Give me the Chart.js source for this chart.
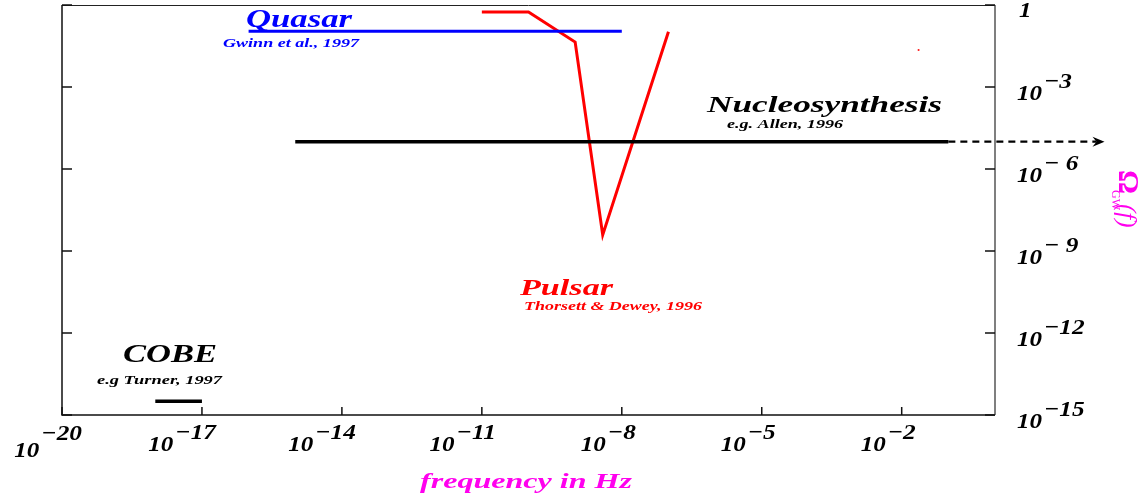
<!DOCTYPE html>
<html>
<head>
<meta charset="utf-8">
<script src="https://cdn.jsdelivr.net/npm/chart.js@4.4.1/dist/chart.umd.min.js"></script>
<style>
  html, body { margin: 0; padding: 0; background: #fff; }
  canvas { display: block; }
</style>
</head>
<body>
<canvas id="chart" width="1146" height="497"></canvas>
<script>
// ---- data (frequency in Hz, Omega_GW) ----
const quasarX = [1e-16, 1e-8];
const quasarY = [0.11, 0.11];

const nucleoX = [1e-15, 1e-1];
const nucleoY = [1e-5, 1e-5];
const nucleoExtX = [1e-1, 150];
const nucleoExtY = [1e-5, 1e-5];

const pulsarX = [1e-11, 1e-10, 1e-9, 3.9e-9, 1e-7];
const pulsarY = [0.56, 0.56, 0.044, 3.9e-9, 0.105];

const strayX = [0.023];
const strayY = [0.0226];

const cobeX = [1e-18, 1e-17];
const cobeY = [3.2e-15, 3.2e-15];

// ticks (powers of ten)
const xTickExps = [-20, -17, -14, -11, -8, -5, -2];
const xTickLabels = ['\u221220', '\u221217', '\u221214', '\u221211', '\u22128', '\u22125', '\u22122'];
const yTickExps = [0, -3, -6, -9, -12, -15];
const yTickLabels = ['1', '\u22123', '\u2212 6', '\u2212 9', '\u221212', '\u221215'];

const BLUE = '#0000ff';
const RED = '#ff0000';
const BLACK = '#000000';
const MAGENTA = '#ff00ee';
const SERIF = '"Liberation Serif", "DejaVu Serif", serif';

function pts(xs, ys) {
  return xs.map((x, i) => ({ x: x, y: ys[i] }));
}

// text squeezed/stretched to a given width so it matches the original layout
function fitText(ctx, str, x, y, w, size, color) {
  ctx.save();
  ctx.font = 'italic bold ' + size + 'px ' + SERIF;
  ctx.fillStyle = color;
  ctx.textBaseline = 'alphabetic';
  const m = ctx.measureText(str).width;
  ctx.translate(x, y);
  ctx.scale(w / m, 1);
  ctx.fillText(str, 0, 0);
  ctx.restore();
}

// "10" with a big superscript exponent, drawn from a left edge
const BASE_PX = 20, SUP_PX = 22;
const BASE_SX = 1.25, SUP_SX = 1.15;
function powWidths(ctx, sup) {
  ctx.font = 'italic bold ' + BASE_PX + 'px ' + SERIF;
  const bw = ctx.measureText('10').width * BASE_SX;
  ctx.font = 'italic bold ' + SUP_PX + 'px ' + SERIF;
  const sw = ctx.measureText(sup).width * SUP_SX;
  return [bw, sw];
}
function drawPow(ctx, sup, left, baseY, supY) {
  const [bw] = powWidths(ctx, sup);
  ctx.save();
  ctx.font = 'italic bold ' + BASE_PX + 'px ' + SERIF;
  ctx.translate(left, baseY);
  ctx.scale(BASE_SX, 1);
  ctx.fillText('10', 0, 0);
  ctx.restore();
  ctx.save();
  ctx.font = 'italic bold ' + SUP_PX + 'px ' + SERIF;
  ctx.translate(left + bw + 2, supY);
  ctx.scale(SUP_SX, 1);
  ctx.fillText(sup, 0, 0);
  ctx.restore();
}

const notes = [
  ['Quasar', 246, 27, 106, 26, BLUE],
  ['Gwinn et al., 1997', 223, 47, 136, 13, BLUE],
  ['Nucleosynthesis', 707, 112, 235, 24, BLACK],
  ['e.g. Allen, 1996', 727, 128, 116, 12, BLACK],
  ['Pulsar', 520, 295, 93, 24, RED],
  ['Thorsett & Dewey, 1996', 524, 310, 178, 12, RED],
  ['COBE', 123, 362, 94, 25, BLACK],
  ['e.g Turner, 1997', 97, 384, 125, 12, BLACK],
  ['frequency in Hz', 420, 488, 212, 22, MAGENTA]
];

const framePlugin = {
  id: 'frame',
  beforeDatasetsDraw(chart) {
    const ctx = chart.ctx;
    const a = chart.chartArea;
    const xs = chart.scales.x;
    const ys = chart.scales.y;
    ctx.save();
    ctx.lineCap = 'butt';

    // top border
    ctx.strokeStyle = '#222';
    ctx.lineWidth = 1;
    ctx.beginPath();
    ctx.moveTo(a.left, a.top + 0.5);
    ctx.lineTo(a.right, a.top + 0.5);
    ctx.stroke();

    // left + bottom axes
    ctx.strokeStyle = '#111';
    ctx.lineWidth = 1.5;
    ctx.beginPath();
    ctx.moveTo(a.left, a.top);
    ctx.lineTo(a.left, a.bottom);
    ctx.lineTo(a.right, a.bottom);
    ctx.stroke();

    // right axis
    ctx.strokeStyle = '#555';
    ctx.beginPath();
    ctx.moveTo(a.right, a.top);
    ctx.lineTo(a.right, a.bottom);
    ctx.stroke();

    // ticks
    ctx.strokeStyle = '#111';
    ctx.beginPath();
    yTickExps.forEach(e => {
      const py = ys.getPixelForValue(Math.pow(10, e));
      ctx.moveTo(a.left, py);
      ctx.lineTo(a.left + 10, py);
      ctx.moveTo(a.right - 10, py);
      ctx.lineTo(a.right, py);
    });
    xTickExps.forEach(e => {
      const px = xs.getPixelForValue(Math.pow(10, e));
      ctx.moveTo(px, a.bottom);
      ctx.lineTo(px, a.bottom - 8);
    });
    ctx.stroke();
    ctx.restore();
  },
  afterDraw(chart) {
    const ctx = chart.ctx;
    const a = chart.chartArea;
    const xs = chart.scales.x;
    const ys = chart.scales.y;
    ctx.save();
    ctx.fillStyle = BLACK;
    ctx.textBaseline = 'alphabetic';

    // arrow head at the end of the dashed extension
    const ax = xs.getPixelForValue(nucleoExtX[nucleoExtX.length - 1]);
    const ay = ys.getPixelForValue(nucleoExtY[nucleoExtY.length - 1]);
    ctx.beginPath();
    ctx.moveTo(ax - 4, ay - 5);
    ctx.lineTo(ax + 8, ay);
    ctx.lineTo(ax - 4, ay + 5);
    ctx.lineTo(ax, ay);
    ctx.closePath();
    ctx.fill();

    // x tick labels: 10^n, right edge just past the tick
    xTickExps.forEach((e, i) => {
      const px = xs.getPixelForValue(Math.pow(10, e));
      const first = i === 0;
      const [bw, sw] = powWidths(ctx, xTickLabels[i]);
      const right = px + (first ? 20 : 14);
      const base = a.bottom + (first ? 42 : 36);
      drawPow(ctx, xTickLabels[i], right - sw - bw - 2, base, base - (first ? 17 : 12));
    });

    // y tick labels on the right
    yTickExps.forEach((e, i) => {
      const py = ys.getPixelForValue(Math.pow(10, e));
      const lx = a.right + 22;
      if (e === 0) {
        ctx.save();
        ctx.font = 'italic bold ' + BASE_PX + 'px ' + SERIF;
        ctx.translate(lx + 2, py + 12);
        ctx.scale(BASE_SX, 1);
        ctx.fillText('1', 0, 0);
        ctx.restore();
        return;
      }
      drawPow(ctx, yTickLabels[i], lx, py + 13, py + 1);
    });

    // annotations
    notes.forEach(n => fitText(ctx, n[0], n[1], n[2], n[3], n[4], n[5]));

    // y axis title, rotated clockwise
    ctx.translate(1119, 170);
    ctx.rotate(Math.PI / 2);
    ctx.fillStyle = MAGENTA;
    ctx.font = 'bold 30px ' + SERIF;
    ctx.fillText('\u03A9', 0, 0);
    const ow = ctx.measureText('\u03A9').width;
    ctx.font = '12px ' + SERIF;
    ctx.fillText('GW', ow - 4, 7);
    ctx.font = 'italic 25px ' + SERIF;
    ctx.fillText('(f)', ow + 10, 0);
    ctx.restore();
  }
};

const line = (data, color, width, extra) => Object.assign({
  data: data,
  showLine: true,
  borderColor: color,
  backgroundColor: color,
  borderWidth: width,
  pointRadius: 0,
  fill: false
}, extra || {});

new Chart(document.getElementById('chart'), {
  type: 'scatter',
  data: {
    datasets: [
      line(pts(quasarX, quasarY), BLUE, 3),
      line(pts(nucleoX, nucleoY), BLACK, 3.5),
      line(pts(nucleoExtX, nucleoExtY), BLACK, 2.2, { borderDash: [7, 5], clip: false }),
      line(pts(pulsarX, pulsarY), RED, 3),
      line(pts(strayX, strayY), RED, 1, { showLine: false, pointRadius: 1.2, pointStyle: 'rect', borderWidth: 0 }),
      line(pts(cobeX, cobeY), BLACK, 3.5)
    ]
  },
  options: {
    responsive: false,
    animation: false,
    events: [],
    layout: { padding: { left: 62, right: 151, top: 5, bottom: 82 } },
    plugins: {
      legend: { display: false },
      tooltip: { enabled: false }
    },
    scales: {
      x: { type: 'logarithmic', min: 1e-20, max: 1, display: false },
      y: { type: 'logarithmic', min: 1e-15, max: 1, display: false }
    }
  },
  plugins: [framePlugin]
});
</script>
</body>
</html>
